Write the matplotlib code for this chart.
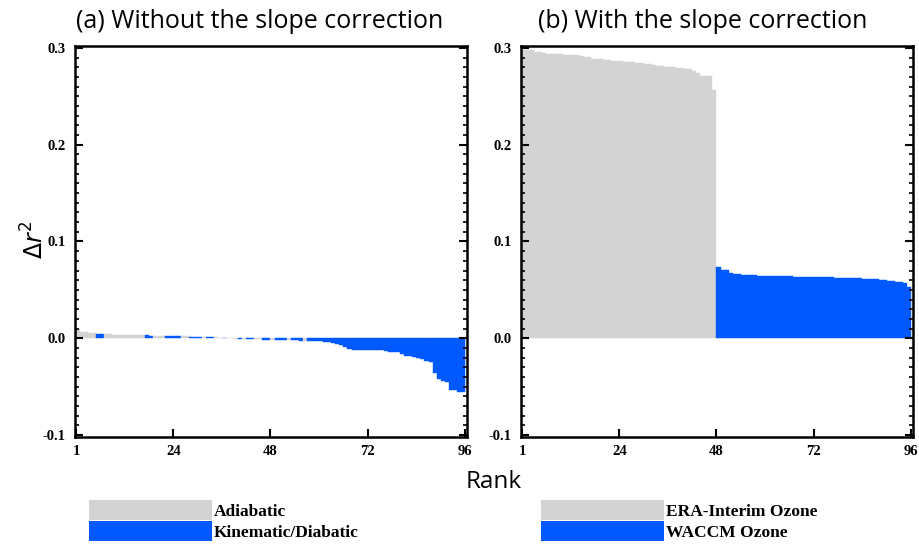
import numpy as np
import matplotlib
matplotlib.use('Agg')
import matplotlib.pyplot as plt
from matplotlib.patches import Patch
from matplotlib.ticker import MultipleLocator, FormatStrFormatter

plt.rcParams['axes.unicode_minus'] = False

GRAY = '#d3d3d3'
BLUE = '#0058ff'

# rank 1..96, sorted
ranks = np.arange(1, 97)

# (a) without slope correction; 'g' = adiabatic, 'b' = kinematic/diabatic
dr2_a = [0.0095, 0.0065, 0.006, 0.0055, 0.005, 0.0045, 0.0045,
         0.004, 0.004, 0.0038, 0.0037, 0.0036, 0.0035, 0.0034, 0.0033, 0.0032, 0.003,
         0.003, 0.0028, 0.0027, 0.0026, 0.0025, 0.0024, 0.0023, 0.0022, 0.0021,
         0.002, 0.0019, 0.0017, 0.0015, 0.0013, 0.0012, 0.0011, 0.001,
         0.0009, 0.0008, 0.0006, 0.0004, 0.0002, -0.0005, -0.0006, -0.0007,
         -0.0008, -0.0009, -0.001, -0.0011, -0.0013, -0.0014, -0.0015,
         -0.0017, -0.0018, -0.0019, -0.002, -0.0021, -0.0022, -0.0023, -0.0024,
         -0.0025, -0.0027, -0.003, -0.0033, -0.0035, -0.0038, -0.0048, -0.0055,
         -0.0065, -0.0086, -0.0107, -0.0117, -0.0117, -0.0117, -0.0117,
         -0.0124, -0.0124, -0.0124, -0.0124, -0.0134, -0.0144, -0.0144, -0.0144,
         -0.0158, -0.0186, -0.0186, -0.0192, -0.0203, -0.0213, -0.023, -0.0244,
         -0.0357, -0.0416, -0.0443, -0.045, -0.0536, -0.0536, -0.0557, -0.0557]
group_a = ('ggggg' 'bb' 'gggggggggg' 'bb' 'ggg' 'bbbb' 'gg' 'bbb' 'g' 'bb'
           'gg' 'b' 'ggg' 'b' 'g' 'bb' 'gg' 'bb' 'g' 'bbb' 'g' 'bbb' 'g'
           + 'b' * 39)

# (b) with slope correction; ranks 1-48 ERA-Interim ozone, 49-96 WACCM ozone
dr2_b = [0.298, 0.2976, 0.2976, 0.2962, 0.2962, 0.2948,
         0.2941, 0.2941, 0.2941, 0.2941, 0.2931, 0.2931, 0.2931, 0.2931,
         0.2921, 0.2907, 0.2907, 0.289, 0.289, 0.289, 0.288, 0.288,
         0.2866, 0.2866, 0.2866, 0.2856, 0.2856, 0.2856, 0.2845, 0.2845,
         0.2835, 0.2835, 0.2825, 0.2814, 0.2814, 0.2804, 0.2804, 0.2804,
         0.2794, 0.2794, 0.2784, 0.2784, 0.2763, 0.2739, 0.2715, 0.2715,
         0.2715, 0.257,
         0.0735, 0.0701, 0.0701, 0.067, 0.066, 0.066,
         0.065, 0.065, 0.065, 0.065,
         0.0643, 0.0643, 0.0643, 0.0643, 0.0643, 0.0643, 0.0643, 0.0643, 0.0643,
         0.0632, 0.0632, 0.0632, 0.0632, 0.0632, 0.0632, 0.0632, 0.0632, 0.0632, 0.0632,
         0.0622, 0.0622, 0.0622, 0.0622, 0.0622, 0.0622, 0.0622,
         0.0611, 0.0611, 0.0611, 0.0611, 0.0601, 0.0601, 0.0591, 0.0591,
         0.0577, 0.0577, 0.0567, 0.0529]
group_b = 'g' * 48 + 'b' * 48

xtick_pos = [0, 24, 48, 72, 96]
xtick_lab = ['1', '24', '48', '72', '96']

titles = ['(a) Without the slope correction', '(b) With the slope correction']
legend_labels = [['Adiabatic', 'Kinematic/Diabatic'],
                 ['ERA-Interim Ozone', 'WACCM Ozone']]

W, H = 920, 548
fig = plt.figure(figsize=(W / 100, H / 100), dpi=100)

tickfont = dict(family='Liberation Serif', weight='bold', size=10.5)
cmap = {'g': GRAY, 'b': BLUE}

# (axes left px, values, groups, title x px, legend x px)
panels = [(75, dr2_a, group_a, 76, 89), (521, dr2_b, group_b, 538, 541)]
for k, (x0, vals, grp, tx, lx) in enumerate(panels):
    ax = fig.add_axes([x0 / W, 1 - 437 / H, 392 / W, 391 / H])
    cols = [cmap[g] for g in grp]
    ax.bar(ranks - 1, vals, width=1.0, align='edge', color=cols,
           edgecolor=cols, linewidth=0.3)
    ax.set_xlim(-0.25, 96.5)
    ax.set_ylim(-0.102, 0.302)
    ax.set_xticks(xtick_pos)
    ax.set_xticklabels(xtick_lab)
    ax.yaxis.set_major_locator(MultipleLocator(0.1))
    ax.yaxis.set_minor_locator(MultipleLocator(0.01))
    ax.yaxis.set_major_formatter(FormatStrFormatter('%.1f'))
    ax.tick_params(axis='y', which='both', direction='in', left=True, right=True)
    ax.tick_params(axis='y', which='major', length=6, width=1.5, pad=7)
    ax.tick_params(axis='y', which='minor', length=3, width=1.2)
    ax.tick_params(axis='x', which='major', direction='in', length=6, width=1.5,
                   pad=6, top=False)
    for lab in ax.get_xticklabels() + ax.get_yticklabels():
        lab.set_fontproperties(matplotlib.font_manager.FontProperties(**tickfont))
    for s in ax.spines.values():
        s.set_linewidth(1.8)

    fig.text(tx / W, 1 - 28 / H, titles[k], family='Open Sans', size=18,
             ha='left', va='baseline')

    handles = [Patch(facecolor=GRAY, edgecolor='none'),
               Patch(facecolor=BLUE, edgecolor='none')]
    fig.legend(handles, legend_labels[k], loc='upper left',
               bbox_to_anchor=(lx / W, 1 - 500 / H),
               frameon=False, borderpad=0, borderaxespad=0,
               handlelength=7.1, handleheight=1.4, handletextpad=0.1,
               labelspacing=0.05,
               prop=dict(family='Liberation Serif', weight='bold', size=12.5))

fig.text(35 / W, 1 - 240 / H, r'$\Delta r^2$', rotation=90, size=17,
         ha='center', va='center')
fig.text(494 / W, 1 - 482 / H, 'Rank', family='Open Sans', size=17.5,
         ha='center', va='center')

fig.savefig('out.png', dpi=100)
